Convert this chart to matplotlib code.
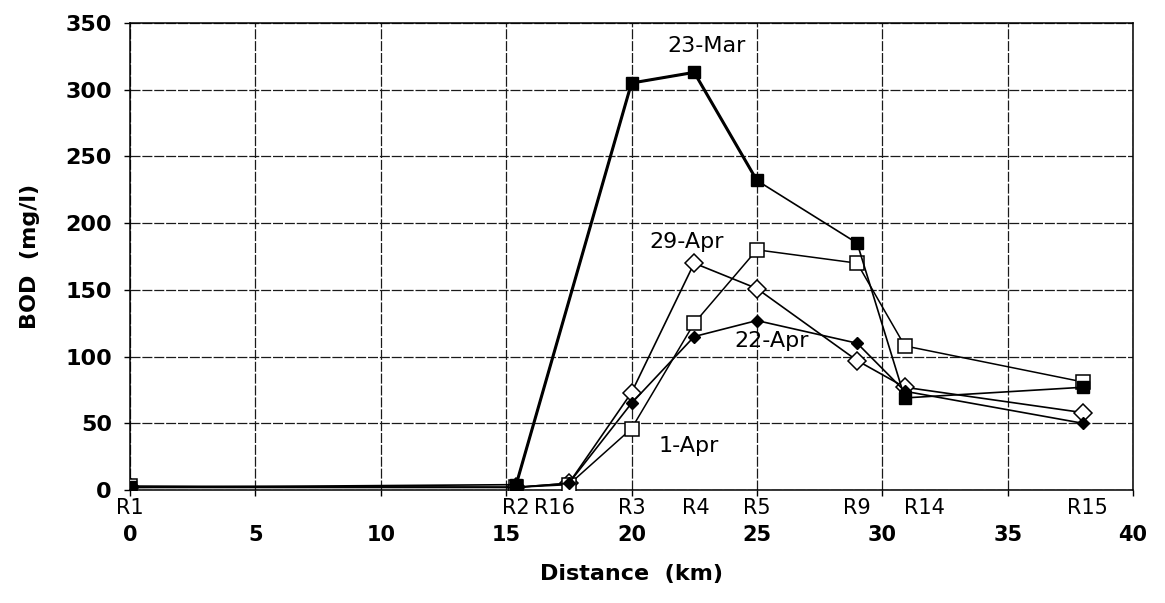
import matplotlib
matplotlib.use("Agg")
import matplotlib.pyplot as plt

# ---------------- data ----------------
stations = ["R1", "R2", "R16", "R3", "R4", "R5", "R9", "R14", "R15"]
distance_km = [0.0, 15.4, 17.5, 20.0, 22.5, 25.0, 29.0, 30.9, 38.0]

bod_23mar = [2, 4, None, 305, 313, 232, 185, 69, 77]
bod_1apr = [3, 2, 4, 46, 125, 180, 170, 108, 81]
bod_22apr = [2, 2, 5, 65, 115, 127, 110, 74, 50]
bod_29apr = [2, 2, 5, 73, 170, 151, 97, 77, 58]

series_labels = ["23-Mar", "1-Apr", "22-Apr", "29-Apr"]
x_ticks = [0, 5, 10, 15, 20, 25, 30, 35, 40]
y_ticks = [0, 50, 100, 150, 200, 250, 300, 350]

# ---------------- figure ----------------
plt.rcParams["font.family"] = ["DejaVu Sans"]
W, H = 1165, 603
fig = plt.figure(figsize=(W / 100, H / 100), dpi=100)
ax = fig.add_axes([130 / W, 1 - 490 / H, (1133 - 130) / W, (490 - 23) / H])

ax.set_xlim(0, 40)
ax.set_ylim(0, 350)

# grid
ax.set_xticks(x_ticks)
ax.set_yticks(y_ticks)
ax.grid(True, color="0.1", lw=0.9, linestyle=(0, (8, 1.5)))
ax.set_axisbelow(True)
for s in ax.spines.values():
    s.set_color("black")
    s.set_linewidth(1.1)


def clean(xs, ys):
    pts = [(x, y) for x, y in zip(xs, ys) if y is not None]
    return [p[0] for p in pts], [p[1] for p in pts]


x, y = clean(distance_km, bod_29apr)
ax.plot(x, y, color="black", lw=1.2, marker="D", ms=9, mfc="white",
        mec="black", mew=1.1, zorder=3)
x, y = clean(distance_km, bod_22apr)
ax.plot(x, y, color="black", lw=1.2, marker="D", ms=6, mfc="black",
        mec="black", zorder=4)
x, y = clean(distance_km, bod_1apr)
ax.plot(x, y, color="black", lw=1.1, marker="s", ms=10, mfc="white",
        mec="black", mew=1.1, zorder=3)
# 23-Mar: thin line overall, heavier stroke on the rising part (as in scan)
x, y = clean(distance_km, bod_23mar)
ax.plot(x, y, color="black", lw=1.2, marker="s", ms=8, mfc="black",
        mec="black", zorder=5)
ax.plot(x[1:5], y[1:5], color="black", lw=2.2, zorder=5)

# ticks
ax.tick_params(axis="both", direction="out", length=4, width=1, color="black")
ax.tick_params(axis="x", pad=21, labelsize=15)
ax.tick_params(axis="y", pad=9, labelsize=16)
ax.set_xticklabels([str(v) for v in x_ticks], fontweight="bold")
ax.set_yticklabels([str(v) for v in y_ticks], fontweight="bold")

# station labels under the axis
label_offsets = {"R16": -14, "R14": 20, "R15": 5, "R4": 2}
for name, d in zip(stations, distance_km):
    ax.annotate(name, xy=(d, 0), xycoords=("data", "axes fraction"),
                xytext=(label_offsets.get(name, 0) * 0.72, -6),
                textcoords="offset points", ha="center", va="top",
                fontsize=15)

# series annotations
ann_pos = {"23-Mar": (23.0, 333), "29-Apr": (22.2, 186),
           "22-Apr": (25.6, 112), "1-Apr": (22.3, 33)}
for lab in series_labels:
    xp, yp = ann_pos[lab]
    ax.text(xp, yp, lab, ha="center", va="center", fontsize=16, zorder=6)

ax.set_xlabel("Distance  (km)", fontsize=16, fontweight="bold", labelpad=14)
ax.set_ylabel("BOD  (mg/l)", fontsize=16, fontweight="bold", labelpad=18)

fig.savefig("out.png", dpi=100)
